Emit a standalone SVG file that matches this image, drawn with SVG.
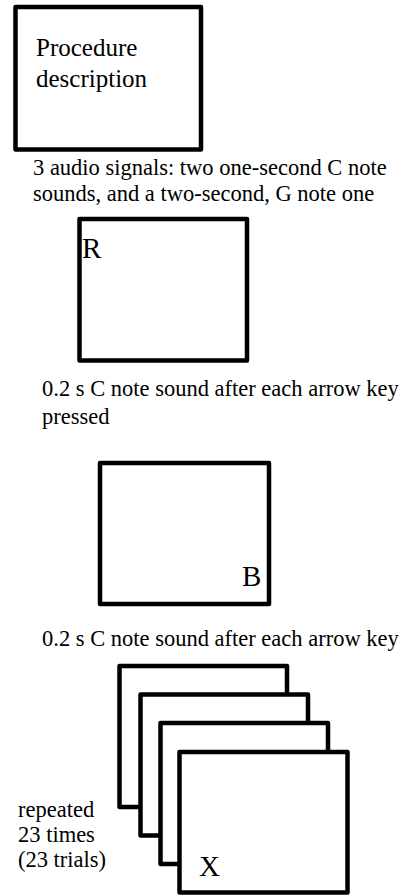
<svg xmlns="http://www.w3.org/2000/svg" width="401" height="895" viewBox="0 0 401 895">
<style>
.box{fill:#fff;stroke:#000;stroke-width:4.5;stroke-linejoin:round}
.t{font-family:"Liberation Serif","Times New Roman",serif;font-size:22.5px;fill:#000}
.h{font-family:"Liberation Serif","Times New Roman",serif;font-size:25px;fill:#000}
.big{font-family:"Liberation Serif","Times New Roman",serif;font-size:29px;fill:#000}
</style>
<rect width="401" height="895" fill="#fff"/>
<g id="node-procedure">
<rect class="box" x="15.5" y="7" width="185.5" height="142.5"/>
<text class="h" x="36" y="56">Procedure</text>
<text class="h" x="36" y="87">description</text>
</g>
<g id="label-audio">
<text class="t" x="33" y="175">3 audio signals: two one-second C note</text>
<text class="t" x="33" y="201">sounds, and a two-second, G note one</text>
</g>
<g id="node-R">
<rect class="box" x="79.5" y="219" width="167.5" height="141.5"/>
<text class="big" x="82" y="258">R</text>
</g>
<g id="label-R">
<text class="t" x="42" y="396">0.2 s C note sound after each arrow key</text>
<text class="t" x="42" y="424">pressed</text>
</g>
<g id="node-B">
<rect class="box" x="100" y="463" width="169" height="141"/>
<text class="big" x="242" y="586">B</text>
</g>
<g id="label-B">
<text class="t" x="42" y="646">0.2 s C note sound after each arrow key</text>
</g>
<g id="node-X-stack">
<rect class="box" x="119.5" y="666" width="167.5" height="141"/>
<rect class="box" x="140.5" y="694.5" width="167.5" height="141"/>
<rect class="box" x="160.5" y="723" width="167.5" height="141"/>
<rect class="box" x="179.5" y="752" width="168" height="140.5"/>
<text class="big" x="199" y="876">X</text>
</g>
<g id="label-repeated">
<text class="t" x="18" y="817">repeated</text>
<text class="t" x="18" y="842">23 times</text>
<text class="t" x="18" y="867">(23 trials)</text>
</g>
<g id="connectors"></g>
</svg>
